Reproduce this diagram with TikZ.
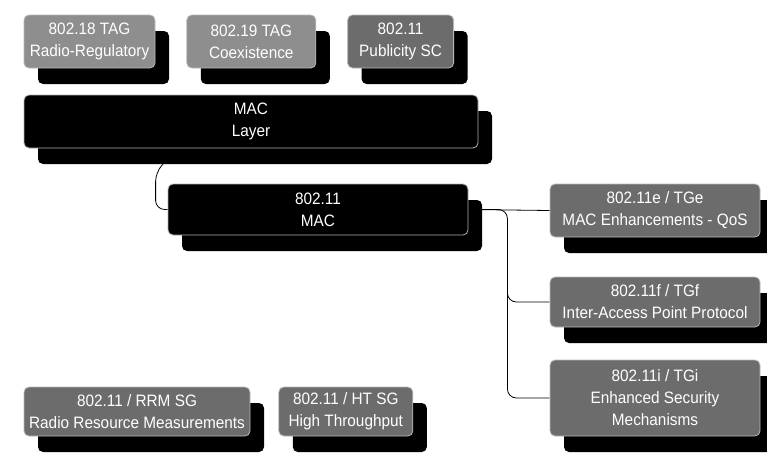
\documentclass[tikz,border=0pt]{standalone}
\usepackage{fontspec}
\setmainfont{Liberation Sans}[FakeStretch=0.93]
\usepackage{xcolor}
\usetikzlibrary{positioning, shadows, backgrounds, calc}
\definecolor{tagfill}{RGB}{142,142,142}
\definecolor{tgfill}{RGB}{108,108,108}
\definecolor{rimgray}{RGB}{185,185,185}

\begin{document}
\begin{tikzpicture}[
    x=1pt, y=-1pt,
    node distance=31pt,
    box/.style={rectangle, rounded corners=5pt, draw=rimgray, line width=0.8pt, text=white, align=center, font=\fontsize{16.5}{22}\selectfont, drop shadow={shadow xshift=14pt, shadow yshift=-16pt, opacity=1, fill=black}},
    tag/.style={box, fill=tagfill},
    group/.style={box, fill=tgfill},
    core/.style={box, fill=black, draw=gray!60},
    link/.style={draw=black, line width=0.8pt, rounded corners=9pt}
]
\useasboundingbox (0,0) rectangle (767,455);
% top row: TAGs and study group
\node (radreg) [tag, minimum width=131pt, minimum height=53pt] at (89.5,41.5) {802.18 TAG\\Radio-Regulatory};
\node (coex) [tag, minimum width=129pt, minimum height=53pt, right=of radreg] {802.19 TAG\\Coexistence};
\node (pubsc) [group, minimum width=106pt, minimum height=53pt, right=of coex] {802.11\\Publicity SC};
% MAC
\node (layer) [core, minimum width=454pt, minimum height=53pt] at (251,121.5) {MAC\\Layer};
\node (mac) [core, minimum width=300pt, minimum height=51pt] at (318,209.5) {802.11\\MAC};
% task groups
\node (tge) [group, minimum width=210pt, minimum height=53pt] at (655,210.5) {802.11e / TGe\\MAC Enhancements - QoS};
\node (tgf) [group, minimum width=210pt, minimum height=50pt] at (655,302) {802.11f / TGf\\Inter-Access Point Protocol};
\node (tgi) [group, minimum width=210pt, minimum height=76pt] at (655,398) {802.11i / TGi\\Enhanced Security\\Mechanisms};
% bottom row
\node (rrm) [group, minimum width=226pt, minimum height=49pt] at (137,411.5) {802.11 / RRM SG\\Radio Resource Measurements};
\node (htsg) [group, minimum width=134pt, minimum height=49pt, right=28pt of rrm] {802.11 / HT SG\\High Throughput};

\begin{scope}[on background layer]
\coordinate (tap) at ($(layer.south west)+(140,15)$);
\coordinate (split) at ($(mac.east)+(39,40)$);
\draw [link] (tap) -- ++(-8,9) |- (mac.west);
\draw [link] (mac.east) -- (tge.west);
\draw [link] (mac.east) -| (split) |- (tgf.west);
\draw [link] (split) |- (tgi.west);
\end{scope}
\end{tikzpicture}
\end{document}
